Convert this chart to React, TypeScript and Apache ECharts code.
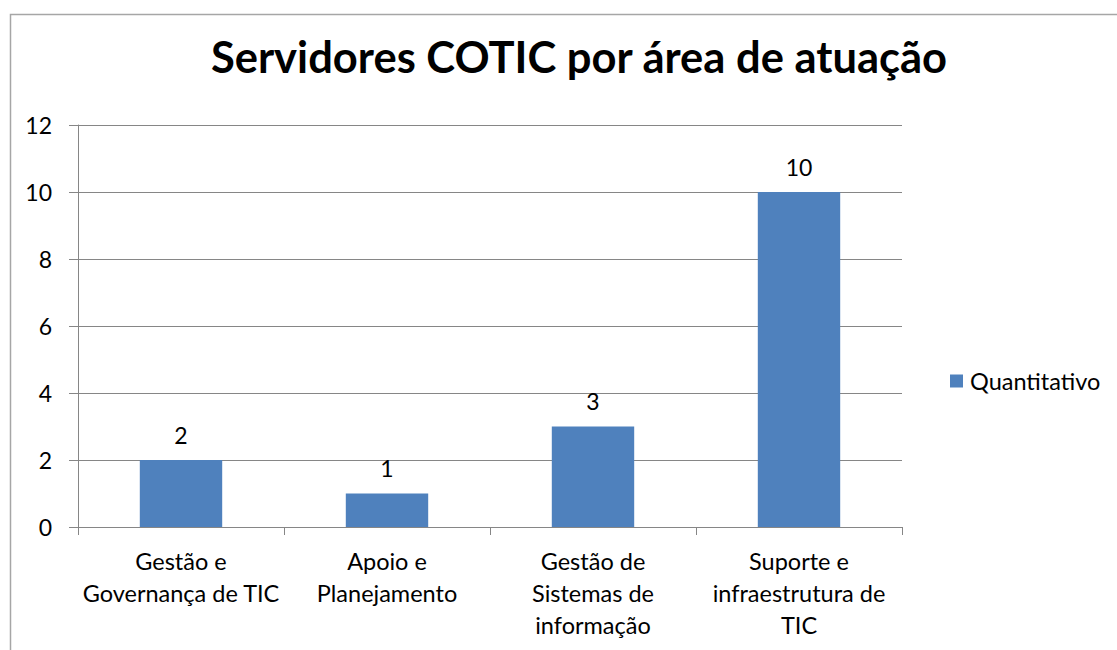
import React, { useEffect, useRef } from "react";
import * as echarts from "echarts";

const titleText = "Servidores COTIC por área de atuação";
const categories = [
  "Gestão e\nGovernança de TIC",
  "Apoio e\nPlanejamento",
  "Gestão de\nSistemas de\ninformação",
  "Suporte e\ninfraestrutura de\nTIC",
];
const seriesName = "Quantitativo";
const values = [2, 1, 3, 10];
const yMin = 0;
const yMax = 12;
const yInterval = 2;

const FONT = "Lato, Carlito, Calibri, sans-serif";

export default function App() {
  const ref = useRef<HTMLDivElement>(null);
  useEffect(() => {
    if (!ref.current) return;
    const chart = echarts.init(ref.current, null, { renderer: "svg" });
    chart.setOption({
      animation: false,
      backgroundColor: "#ffffff",
      title: {
        text: titleText,
        left: 574,
        textAlign: "center",
        top: 29,
        textStyle: { fontFamily: FONT, fontSize: 43.5, fontWeight: "bold", color: "#000000" },
      },
      legend: {
        data: [seriesName],
        left: 945,
        top: 364,
        itemWidth: 13,
        itemHeight: 13,
        icon: "rect",
        textStyle: { fontFamily: FONT, fontSize: 23.5, color: "#000000", padding: [0, 0, 0, 2] },
      },
      graphic: [
        {
          type: "polyline",
          shape: { points: [[10.5, 700], [10.5, 14.5], [1200, 14.5]] },
          style: { stroke: "#a6a6a6", lineWidth: 1.5, fill: "none" },
          silent: true,
        },
      ],
      grid: { left: 78, right: 215, top: 125, bottom: 123 },
      xAxis: {
        type: "category",
        data: categories,
        axisLine: { lineStyle: { color: "#868686", width: 1 } },
        axisTick: { show: true, length: 8, alignWithLabel: false, lineStyle: { color: "#868686" } },
        axisLabel: {
          interval: 0,
          margin: 18,
          fontFamily: FONT,
          fontSize: 23.5,
          lineHeight: 32,
          color: "#000000",
        },
      },
      yAxis: {
        type: "value",
        min: yMin,
        max: yMax,
        interval: yInterval,
        axisLine: { show: true, lineStyle: { color: "#868686", width: 1 } },
        axisTick: { show: true, length: 9, lineStyle: { color: "#868686" } },
        splitLine: { show: true, lineStyle: { color: "#868686", width: 1 } },
        axisLabel: { margin: 26, fontFamily: FONT, fontSize: 23, color: "#000000" },
      },
      series: [
        {
          name: seriesName,
          type: "bar",
          data: values,
          barWidth: "40%",
          itemStyle: { color: "#4f81bd" },
          label: {
            show: true,
            position: "top",
            distance: 14,
            fontFamily: FONT,
            fontSize: 23,
            color: "#000000",
          },
        },
      ],
    });
    return () => chart.dispose();
  }, []);
  return (
    <div
      ref={ref}
      style={{ position: "absolute", left: 0, top: 0, width: 1117, height: 650 }}
    />
  );
}
